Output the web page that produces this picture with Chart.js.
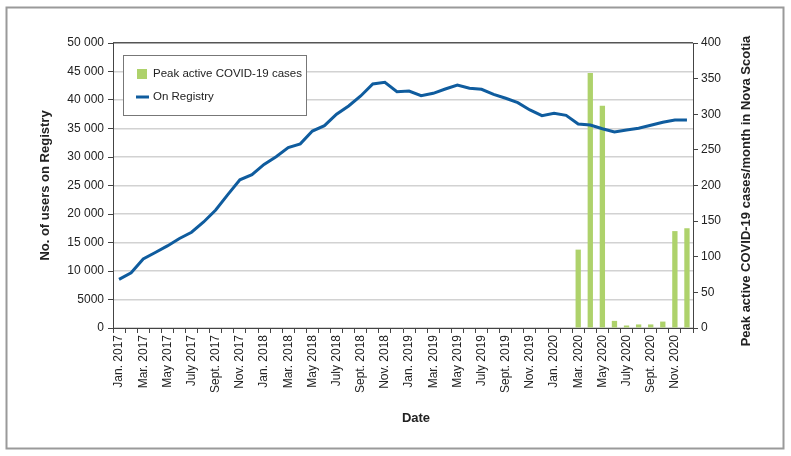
<!DOCTYPE html>
<html>
<head>
<meta charset="utf-8">
<script src="https://cdn.jsdelivr.net/npm/chart.js@4/dist/chart.umd.min.js"></script>
<style>
  html, body { margin: 0; padding: 0; background: #fff; }
  #wrap { width: 791px; height: 456px; }
</style>
</head>
<body>
<div id="wrap"><canvas id="chart" width="791" height="456"></canvas></div>
<script>
// Month labels, Jan 2017 - Dec 2020
const monthNames = ["Jan.", "Feb.", "Mar.", "Apr.", "May", "June", "July", "Aug.", "Sept.", "Oct.", "Nov.", "Dec."];
const years = [2017, 2018, 2019, 2020];
const labels = [];
years.forEach(y => monthNames.forEach(m => labels.push(m + " " + y)));

// Users on Registry (left axis)
const registry = [
  8540, 9700, 12100, 13250, 14400, 15700, 16800, 18600, 20700, 23400, 26000, 26900,
  28700, 30050, 31650, 32300, 34550, 35500, 37500, 38950, 40700, 42800, 43100, 41450,
  41580, 40750, 41170, 41930, 42630, 42050, 41870, 41000, 40300, 39530, 38250, 37250,
  37660, 37310, 35790, 35610, 34960, 34390, 34740, 35030, 35560, 36090, 36490, 36490
];

// Peak active COVID-19 cases per month (right axis), Mar 2020 onward
const cases = [
  null, null, null, null, null, null, null, null, null, null, null, null,
  null, null, null, null, null, null, null, null, null, null, null, null,
  null, null, null, null, null, null, null, null, null, null, null, null,
  null, null, 110, 358, 312, 10, 3.5, 5, 5, 9, 136, 140
];

const FONT = "'Liberation Sans', Arial, Helvetica, sans-serif";
const TEXT = "#222";
const GREEN = "#aed26b";
const BLUE = "#0f5c9e";

function spaced(v) {
  if (v < 10000) return String(v);
  return String(v).replace(/\B(?=(\d{3})+(?!\d))/g, " ");
}

// frame, legend box, x title and right title
const decor = {
  id: "decor",
  beforeDraw(chart) {
    const ctx = chart.ctx;
    ctx.save();
    ctx.fillStyle = "#fff";
    ctx.fillRect(0, 0, chart.width, chart.height);
    ctx.strokeStyle = "#9a9a9a";
    ctx.lineWidth = 2;
    ctx.strokeRect(6.5, 7.5, 777, 441);
    ctx.restore();
  },
  afterDraw(chart) {
    const ctx = chart.ctx;
    ctx.save();
    // legend
    ctx.fillStyle = "#fff";
    ctx.fillRect(123.5, 55.5, 183, 60);
    ctx.strokeStyle = "#777";
    ctx.lineWidth = 1;
    ctx.strokeRect(123.5, 55.5, 183, 60);
    ctx.fillStyle = GREEN;
    ctx.fillRect(137, 69, 10, 10);
    ctx.strokeStyle = BLUE;
    ctx.lineWidth = 3;
    ctx.beginPath();
    ctx.moveTo(136, 97);
    ctx.lineTo(149, 97);
    ctx.stroke();
    ctx.fillStyle = TEXT;
    ctx.font = "11.5px " + FONT;
    ctx.textBaseline = "middle";
    ctx.fillText(chart.data.datasets[1].label, 153, 74);
    ctx.fillText(chart.data.datasets[0].label, 153, 97);
    // x axis title
    ctx.font = "bold 13px " + FONT;
    ctx.textAlign = "center";
    ctx.fillText("Date", 416, 418);
    // right axis title, reading bottom to top
    ctx.translate(746, 191);
    ctx.rotate(-Math.PI / 2);
    ctx.fillText("Peak active COVID-19 cases/month in Nova Scotia", 0, 0);
    ctx.restore();
  }
};

new Chart(document.getElementById("chart"), {
  type: "bar",
  data: {
    labels: labels,
    datasets: [
      {
        type: "line",
        label: "On Registry",
        data: registry,
        yAxisID: "y",
        borderColor: BLUE,
        backgroundColor: BLUE,
        borderWidth: 3,
        pointRadius: 0,
        tension: 0,
        order: 0
      },
      {
        type: "bar",
        label: "Peak active COVID-19 cases",
        data: cases,
        yAxisID: "y1",
        backgroundColor: GREEN,
        categoryPercentage: 0.8,
        barPercentage: 0.55,
        order: 1
      }
    ]
  },
  options: {
    responsive: false,
    animation: false,
    layout: { padding: { top: 43, left: 0, right: 0, bottom: 0 } },
    plugins: {
      legend: { display: false },
      tooltip: { enabled: false }
    },
    scales: {
      x: {
        offset: true,
        grid: { offset: true, drawOnChartArea: false, color: "#444", tickLength: 5 },
        border: { color: "#444", width: 1 },
        ticks: {
          autoSkip: false,
          maxRotation: 90,
          minRotation: 90,
          padding: 2,
          color: TEXT,
          font: { family: FONT, size: 12 },
          callback: function (v, i) { return i % 2 === 0 ? this.getLabelForValue(v) : ""; }
        },
        afterFit: s => { s.height = 128; }
      },
      yGrid: {
        position: "left",
        min: 0,
        max: 50000,
        ticks: { display: false, stepSize: 5000 },
        grid: {
          drawTicks: false,
          lineWidth: 1.5,
          color: c => (c.tick && c.tick.value === 50000 ? "#555" : "#d2d2d2")
        },
        border: { display: false },
        afterFit: s => { s.width = 0; }
      },
      y: {
        position: "left",
        min: 0,
        max: 50000,
        ticks: {
          stepSize: 5000,
          padding: 4,
          color: TEXT,
          font: { family: FONT, size: 12 },
          callback: v => spaced(v)
        },
        grid: { drawOnChartArea: false, color: "#444", tickLength: 5 },
        border: { color: "#444", width: 1 },
        title: {
          display: true,
          text: "No. of users on Registry",
          color: TEXT,
          font: { family: FONT, size: 13, weight: "bold" },
          padding: { top: 38, bottom: 0 }
        },
        afterFit: s => { s.width = 113; }
      },
      y1: {
        position: "right",
        min: 0,
        max: 400,
        ticks: {
          stepSize: 50,
          padding: 3,
          color: TEXT,
          font: { family: FONT, size: 12 }
        },
        grid: { drawOnChartArea: false, color: "#444", tickLength: 5 },
        border: { color: "#444", width: 1 },
        afterFit: s => { s.width = 98; }
      }
    }
  },
  plugins: [decor]
});
</script>
</body>
</html>
